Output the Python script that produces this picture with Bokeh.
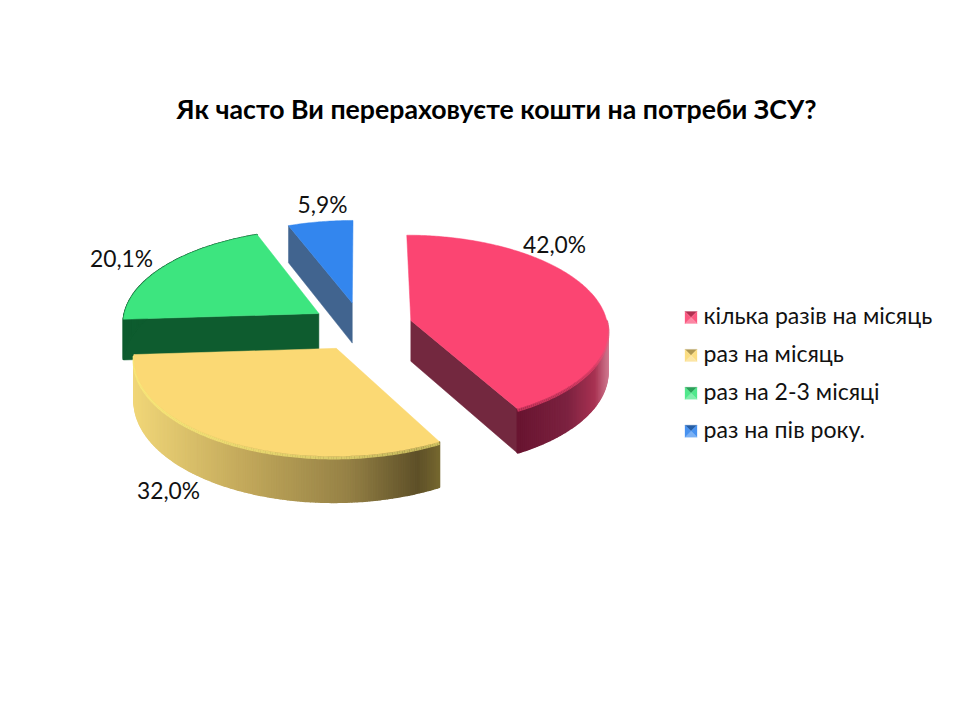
from math import sin, cos, radians
from bokeh.plotting import figure
from bokeh.models import Range1d
from bokeh.core.properties import value
from bokeh.embed import file_html
from bokeh.resources import INLINE

# ---- data ----
categories = ["кілька разів на місяць", "раз на місяць", "раз на 2-3 місяці", "раз на пів року."]
shares = [42.0, 32.0, 20.1, 5.9]
share_labels = ["42,0%", "32,0%", "20,1%", "5,9%"]
title = "Як часто Ви перераховуєте кошти на потреби ЗСУ?"

# ---- style ----
top_colors = ["#fb4572", "#fbd974", "#3de57f", "#3386ee"]
cut_colors = ["#73283f", "#8a7838", "#0e5c2f", "#41648f"]
visible_cut = [1, None, 0, 0]  # which radial face of each slice faces the viewer
wall_stops = [
    [(0.0, "#681430"), (0.55, "#7c2240"), (0.85, "#a83252"), (1.0, "#d07a90")],
    [(0.0, "#f0d678"), (0.35, "#c4aa5c"), (0.7, "#968246"), (0.93, "#5e5028"), (1.0, "#75672f")],
    [(0.0, "#0e5c2f"), (1.0, "#0e5c2f")],
    [(0.0, "#41648f"), (1.0, "#41648f")],
]
FONT = "Lato"
CX, CY, A, B, K, EXPLODE, DEPTH = 361.0, 326.0, 197.0, 94.0, 0.09, 0.26, 41.0
DRAW_ORDER = [2, 3, 0, 1]


def project(X, Y, drop=0.0):
    s = 1.0 / (1.0 - K * Y)
    return CX + A * X * s, CY + B * Y * s + drop * s


def hex2rgb(h):
    return tuple(int(h[i:i + 2], 16) for i in (1, 3, 5))


def mix(c1, c2, t):
    a, b = hex2rgb(c1), hex2rgb(c2)
    return "#%02x%02x%02x" % tuple(round(a[i] + (b[i] - a[i]) * t) for i in range(3))


def ramp(stops, t):
    for (t0, c0), (t1, c1) in zip(stops, stops[1:]):
        if t <= t1:
            return mix(c0, c1, (t - t0) / max(t1 - t0, 1e-6))
    return stops[-1][1]


p = figure(width=953, height=702, output_backend="svg", toolbar_location=None,
           x_range=Range1d(0, 953), y_range=Range1d(702, 0), tools="")
p.axis.visible = False
p.grid.visible = False
p.outline_line_color = None
p.min_border = 0
p.background_fill_color = "white"
p.border_fill_color = "white"

# slice angles from the values
spans = []
start = 0.0
total = sum(shares)
for s_ in shares:
    end = start + 360.0 * s_ / total
    spans.append((start, end))
    start = end


def pie_slice(i):
    a0, a1 = spans[i]
    mid = radians((a0 + a1) / 2)
    ox, oy = EXPLODE * sin(mid), -EXPLODE * cos(mid)
    n = max(int((a1 - a0) * 1.5), 8)
    arc = []
    for j in range(n + 1):
        th = radians(a0 + (a1 - a0) * j / n)
        arc.append((ox + sin(th), oy - cos(th)))
    apex = (ox, oy)

    # radial face turned to the viewer
    if visible_cut[i] is not None:
        rim = arc[-1] if visible_cut[i] else arc[0]
        pts = [project(*apex), project(*rim), project(*rim, DEPTH), project(*apex, DEPTH)]
        p.patch([q[0] for q in pts], [q[1] for q in pts], fill_color=cut_colors[i],
                line_color=cut_colors[i], line_width=0.5)

    # curved wall in shaded strips
    xs_all = [project(*q)[0] for q in arc]
    x_lo, x_hi = min(xs_all), max(xs_all)
    sxs, sys, cols = [], [], []
    lx, ly, lc = [], [], []
    for q0, q1 in zip(arc, arc[1:]):
        if q0[1] < oy and q1[1] < oy and i != 2:
            continue
        pts = [project(*q0), project(*q1), project(*q1, DEPTH), project(*q0, DEPTH)]
        sxs.append([q[0] for q in pts])
        sys.append([q[1] for q in pts])
        if i == 0:
            ref_x = project(*arc[-1])[0]
            t = max(min((pts[0][0] - ref_x) / max(x_hi - ref_x, 1), 1), 0)
        else:
            t = (pts[0][0] - x_lo) / max(x_hi - x_lo, 1)
        c = ramp(wall_stops[i], t)
        cols.append(c)
        a_, b_ = project(*q0, 1.5), project(*q1, 1.5)
        lx.append([a_[0], b_[0]])
        ly.append([a_[1], b_[1]])
        lc.append(mix(c, "#fff27a" if i == 1 else top_colors[i], 0.65))
    if sxs:
        p.patches(sxs, sys, fill_color=cols, line_color=cols, line_width=1.6)
    if i < 2:
        p.multi_line(lx, ly, line_color=lc, line_width=3)

    # top surface
    pts = [project(*apex)] + [project(*q) for q in arc]
    p.patch([q[0] for q in pts], [q[1] for q in pts], fill_color=top_colors[i],
            line_color=top_colors[i], line_width=0.5)


for i in DRAW_ORDER:
    pie_slice(i)

# value labels
LABEL_X = [554, 168, 121, 322]
LABEL_Y = [243, 489, 257, 203]
p.text(LABEL_X, LABEL_Y, text=share_labels, text_font=value(FONT), text_font_size="22.8px",
       text_color="#111111", text_align="center", text_baseline="middle")

# title
p.text([496], [108], text=[title], text_font=value(FONT), text_font_style="bold",
       text_font_size="26.7px", text_color="#000000", text_align="center", text_baseline="middle")

# legend
LEG_X, LEG_Y0, LEG_DY, SW = 690.5, 317.0, 37.9, 6.0
for i, cat in enumerate(categories):
    yc = LEG_Y0 + i * LEG_DY
    corners = [(LEG_X - SW, yc - SW), (LEG_X + SW, yc - SW), (LEG_X + SW, yc + SW), (LEG_X - SW, yc + SW)]
    shade = [mix(top_colors[i], "#000000", 0.30), mix(top_colors[i], "#ffffff", 0.10),
             mix(top_colors[i], "#ffffff", 0.35), mix(top_colors[i], "#ffffff", 0.10)]
    for k in range(4):
        c0, c1 = corners[k], corners[(k + 1) % 4]
        p.patch([c0[0], c1[0], LEG_X], [c0[1], c1[1], yc], fill_color=shade[k], line_color=shade[k], line_width=0.3)
    p.text([703], [yc - 2.5], text=[cat], text_font=value(FONT), text_font_size="23.1px",
           text_color="#111111", text_align="left", text_baseline="middle")

open("out.html", "w").write(file_html(p, INLINE))
